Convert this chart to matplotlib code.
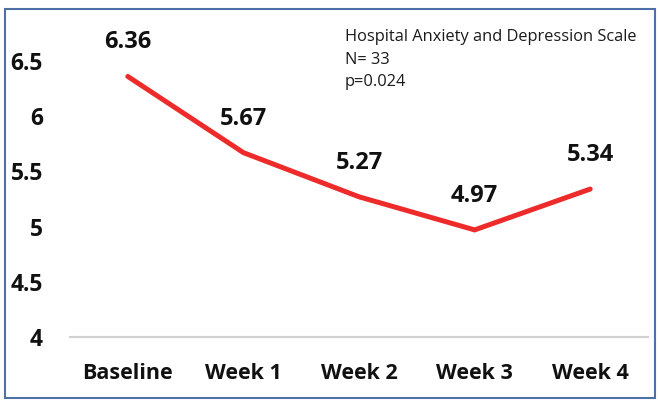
import matplotlib.pyplot as plt
from matplotlib.patches import Rectangle

# data
timepoints = ['Baseline', 'Week 1', 'Week 2', 'Week 3', 'Week 4']
hads_scores = [6.36, 5.67, 5.27, 4.97, 5.34]
y_ticks = [4, 4.5, 5, 5.5, 6, 6.5]
y_tick_labels = ['4', '4.5', '5', '5.5', '6', '6.5']
note_lines = ['Hospital Anxiety and Depression Scale', 'N= 33', 'p=0.024']

plt.rcParams['font.family'] = ['Open Sans', 'DejaVu Sans']

fig = plt.figure(figsize=(6.58, 4.0), dpi=100)
W, H = 658, 400
ax = fig.add_axes([70 / W, 1 - 337 / H, 578 / W, 276 / H])

x = list(range(len(timepoints)))
ax.plot(x, hads_scores, color='#EE2B2B', linewidth=3.6,
        solid_capstyle='round', solid_joinstyle='miter', clip_on=False)

for xi, v in zip(x, hads_scores):
    ax.annotate(f'{v:.2f}', (xi, v), xytext=(0, 24.5), textcoords='offset points',
                ha='center', va='center', fontsize=17, fontweight='bold', color='#111111')

ax.set_xlim(-0.5, len(timepoints) - 0.5)
ax.set_ylim(4, 6.5)
ax.set_xticks(x)
ax.set_xticklabels(timepoints, fontsize=15.5, fontweight='bold', color='#111111')
ax.set_yticks(y_ticks)
ax.set_yticklabels(y_tick_labels, fontsize=16.5, fontweight='bold', color='#111111')
ax.tick_params(axis='both', length=0)
ax.tick_params(axis='x', pad=18.5)
ax.tick_params(axis='y', pad=19.5)

for s in ['top', 'right', 'left']:
    ax.spines[s].set_visible(False)
ax.spines['bottom'].set_color('#D0D0D0')
ax.spines['bottom'].set_linewidth(1.5)

# annotation block
for i, line in enumerate(note_lines):
    fig.text(345 / W, 1 - (37 + i * 22.5) / H, line, fontsize=11.8,
             color='#1A1A1A', ha='left', va='center')

# outer border
fig.patches.append(Rectangle((5 / W, 2 / H), 650 / W, 389 / H,
                             transform=fig.transFigure, fill=False,
                             edgecolor='#4F6FA8', linewidth=1.5))

fig.savefig('out.png', dpi=100)
